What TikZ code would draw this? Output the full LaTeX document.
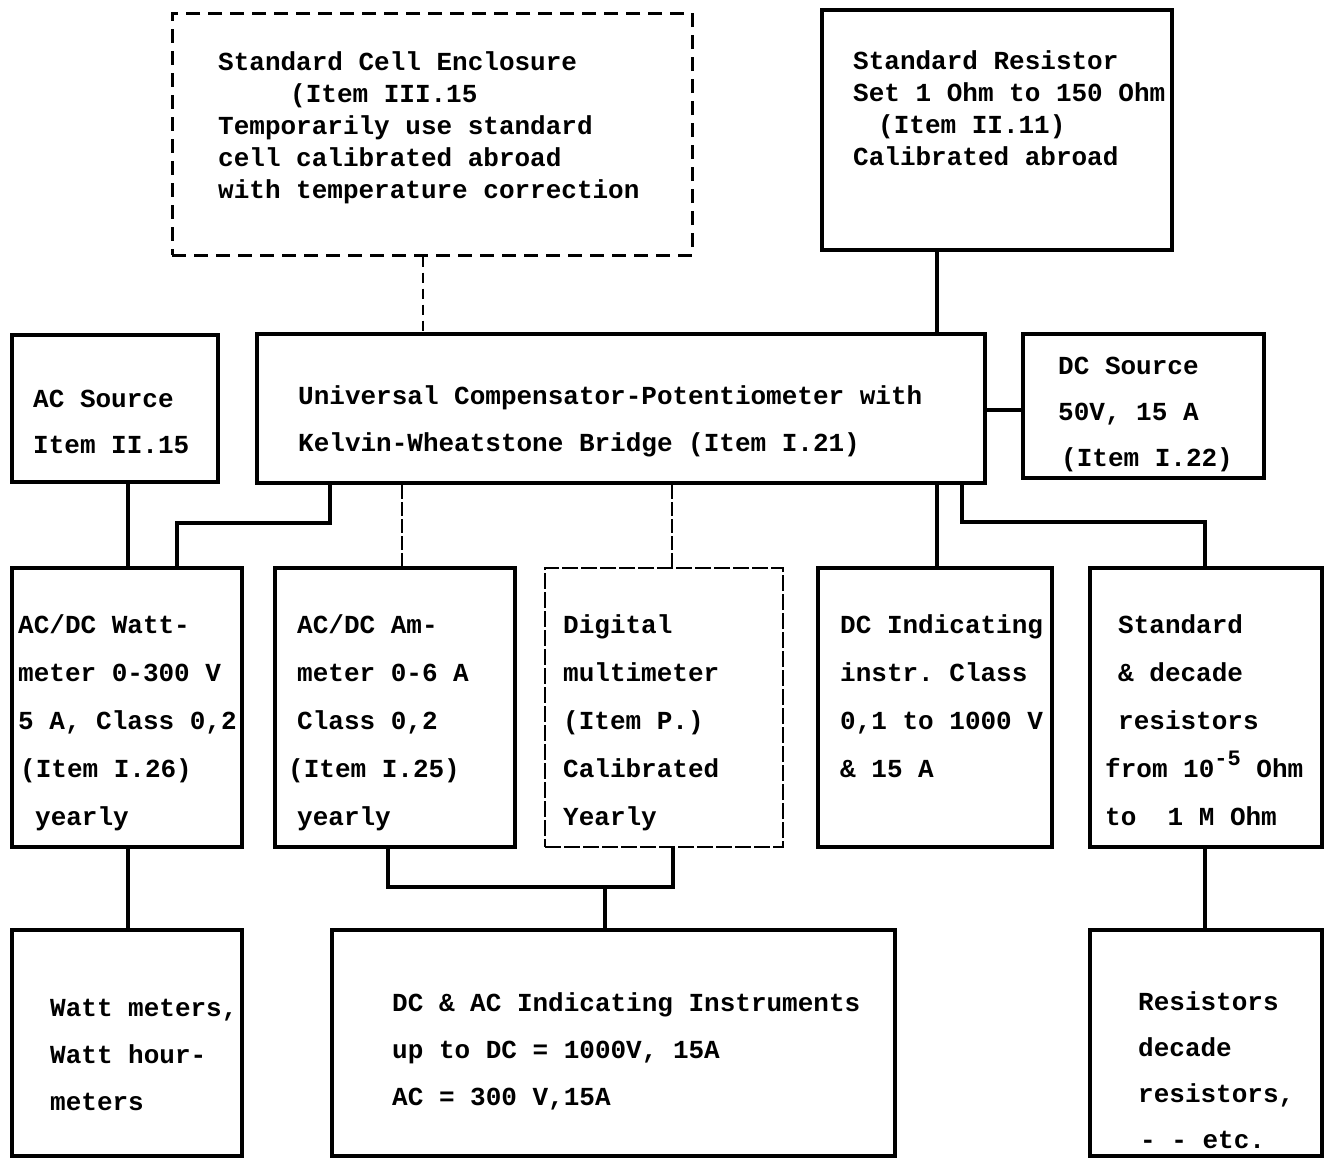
\documentclass[tikz,border=0pt]{standalone}
\usepackage{fontspec}
\newfontfamily\tw{Liberation Mono}
\frenchspacing
\begin{document}
\begin{tikzpicture}[x=1pt,y=-1pt,
  box/.style={draw=black,line width=4pt,rectangle,inner sep=0pt,fill=none},
  dbox/.style={draw=black,line width=3pt,dash pattern=on 14pt off 8pt,rectangle,inner sep=0pt},
  tbox/.style={draw=black,line width=2.4pt,dash pattern=on 16pt off 3pt,rectangle,inner sep=0pt},
  conn/.style={draw=black,line width=3.5pt,line join=miter},
  tconn/.style={draw=black,line width=2.6pt,dash pattern=on 14pt off 3pt},
  dconn/.style={draw=black,line width=2.8pt,dash pattern=on 10pt off 6pt},
  txt/.style={inner sep=0pt,font=\tw\bfseries\fontsize{26}{30}\selectfont}]
\useasboundingbox (0,0) rectangle (1330,1159);
\fill[white] (0,0) rectangle (1330,1159);
% boxes
\node[dbox,minimum width=520pt,minimum height=242pt] (cell) at (432,134) {};
\node[box,minimum width=350pt,minimum height=240pt] (stdres) at (997,130) {};
\node[box,minimum width=206pt,minimum height=147pt] (acs) at (115,408.5) {};
\node[box,minimum width=728pt,minimum height=149pt] (univ) at (621,408.5) {};
\node[box,minimum width=241pt,minimum height=144pt] (dcs) at (1143.5,406) {};
\node[box,minimum width=230pt,minimum height=279pt] (watt) at (127,707.5) {};
\node[box,minimum width=240pt,minimum height=279pt] (amm) at (395,707.5) {};
\node[tbox,minimum width=238pt,minimum height=279pt] (dmm) at (664,707.5) {};
\node[box,minimum width=234pt,minimum height=279pt] (dci) at (935,707.5) {};
\node[box,minimum width=232pt,minimum height=279pt] (sdr) at (1206,707.5) {};
\node[box,minimum width=230pt,minimum height=226pt] (wm) at (127,1043) {};
\node[box,minimum width=563pt,minimum height=226pt] (dcac) at (613.5,1043) {};
\node[box,minimum width=232pt,minimum height=226pt] (res) at (1206,1043) {};
% bend points
\coordinate (jL1) at (330,523);
\coordinate (jL2) at (177,523);
\coordinate (jR1) at (962,522);
\coordinate (jR2) at (1205,522);
\coordinate (jB1) at (388,887);
\coordinate (jB2) at (673,887);
\coordinate (jB3) at (605,887);
% connectors
\draw[dconn] (cell.south -| 423,0) -- (univ.north -| 423,0);
\draw[conn] (stdres.south -| 937,0) -- (univ.north -| 937,0);
\draw[conn] (univ.east |- 0,410) -- (dcs.west |- 0,410);
\draw[conn] (acs.south -| 128,0) -- (watt.north -| 128,0);
\draw[conn] (univ.south -| jL1) -- (jL1) -- (jL2) -- (watt.north -| jL2);
\draw[tconn] (univ.south -| 402,0) -- (amm.north -| 402,0);
\draw[tconn] (univ.south -| 672,0) -- (dmm.north -| 672,0);
\draw[conn] (univ.south -| 937,0) -- (dci.north -| 937,0);
\draw[conn] (univ.south -| jR1) -- (jR1) -- (jR2) -- (sdr.north -| jR2);
\draw[conn] (watt.south -| 128,0) -- (wm.north -| 128,0);
\draw[conn] (amm.south -| jB1) -- (jB1) -- (jB2) -- (dmm.south -| jB2);
\draw[conn] (jB3) -- (dcac.north -| jB3);
\draw[conn] (sdr.south -| 1205,0) -- (res.north -| 1205,0);
% texts
\newcommand\putlines[5]{%
  \foreach \t [count=\i] in {#5}
    \node[txt,anchor=base west,name=#1-\i] at ({#2},{#3+(\i-1)*#4}) {\t};}
\putlines{tcell}{218}{70}{32}{Standard Cell Enclosure,\hspace*{72pt}(Item III.15,Temporarily use standard,cell calibrated abroad,with temperature correction}
\putlines{tstd}{853}{69}{32}{Standard Resistor,Set 1 Ohm to 150 Ohm,\hspace*{25pt}(Item II.11),Calibrated abroad}
\putlines{tacs}{33}{407}{46}{AC Source,Item II.15}
\putlines{tuniv}{298}{404}{47}{Universal Compensator-Potentiometer with,Kelvin-Wheatstone Bridge (Item I.21)}
\putlines{tdcs}{1058}{374}{46}{DC Source,{50V, 15 A},\hspace*{3pt}(Item I.22)}
\putlines{twatt}{18}{633}{48}{AC/DC Watt-,meter 0-300 V,{5 A, Class 0,2},\hspace*{2pt}(Item I.26),\hspace*{17pt}yearly}
\putlines{tamm}{297}{633}{48}{AC/DC Am-,meter 0-6 A,{Class 0,2},\hspace*{-9pt}(Item I.25),yearly}
\putlines{tdmm}{563}{633}{48}{Digital,multimeter,(Item P.),Calibrated,Yearly}
\putlines{tdci}{840}{633}{48}{DC Indicating,instr. Class,{0,1 to 1000 V},\& 15 A}
\putlines{tsdr}{1118}{633}{48}{Standard,\& decade,resistors,\hspace*{-13pt}from 10\raisebox{12pt}{\fontsize{22}{22}\selectfont -5} Ohm,\hspace*{-13pt}to\ \ 1 M Ohm}
\putlines{twm}{50}{1016}{47}{{Watt meters,},Watt hour-,meters}
\putlines{tdcac}{392}{1011}{47}{DC \& AC Indicating Instruments,{up to DC = 1000V, 15A},{AC = 300 V,15A}}
\putlines{tres}{1138}{1010}{46}{Resistors,decade,{resistors,},\hspace*{2pt}- - etc.}
\end{tikzpicture}
\end{document}
